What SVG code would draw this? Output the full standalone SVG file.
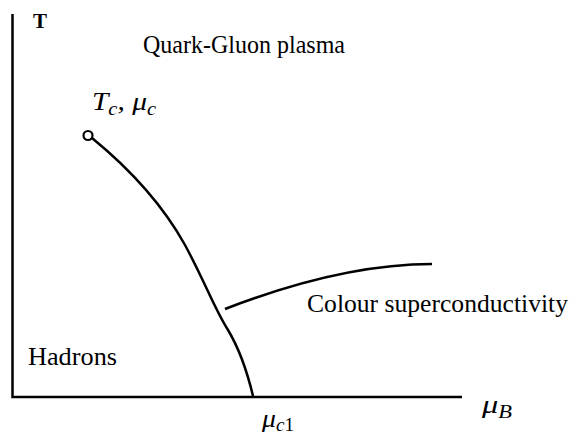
<svg xmlns="http://www.w3.org/2000/svg" width="577" height="437" viewBox="0 0 577 437">
<style>
.ln{fill:none;stroke:#000;stroke-width:2.5;stroke-linecap:butt}
</style>
<rect width="577" height="437" fill="#fff"/>
<g id="axes">
<path class="ln" d="M12.5,14 V397 H462"/>
</g>
<g id="connectors">
<path class="ln" d="M92,138 C125,165 160,200 185,245 C205,282 215,310 228,330 C240,350 248,375 253,396"/>
<path class="ln" d="M225,309 C300,280 370,264 432,264"/>
</g>
<g id="critical-point">
<circle cx="88" cy="135.5" r="4.5" fill="#fff" stroke="#000" stroke-width="2.2"/>
</g>
<g id="labels" font-family="Liberation Serif" font-size="25" fill="#000">
<text x="33" y="28" font-weight="bold" font-size="21">T</text>
<text x="143" y="53" textLength="202" lengthAdjust="spacingAndGlyphs">Quark-Gluon plasma</text>
<text x="92" y="110" font-style="italic" font-size="26" textLength="64" lengthAdjust="spacingAndGlyphs">T<tspan font-size="18" dy="5">c</tspan><tspan dy="-5">, μ</tspan><tspan font-size="18" dy="5">c</tspan></text>
<text x="307" y="312" textLength="261" lengthAdjust="spacingAndGlyphs">Colour superconductivity</text>
<text x="28" y="365" textLength="89" lengthAdjust="spacingAndGlyphs">Hadrons</text>
<text x="262" y="427" font-style="italic" font-size="26" textLength="32" lengthAdjust="spacingAndGlyphs">μ<tspan font-size="18" dy="4">c</tspan><tspan font-style="normal" font-size="18">1</tspan></text>
<text x="482" y="413" font-style="italic" font-size="26" textLength="30" lengthAdjust="spacingAndGlyphs">μ<tspan font-size="18" dy="5">B</tspan></text>
</g>
</svg>
